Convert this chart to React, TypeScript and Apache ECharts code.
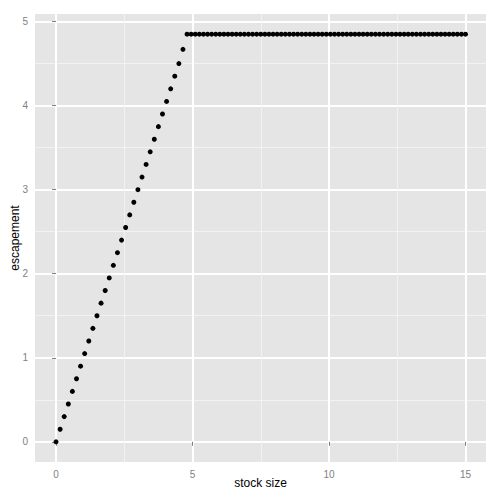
import React, { useEffect, useRef } from "react";
import * as echarts from "echarts";

const stockSize = [
  0, 0.15, 0.3, 0.45, 0.6, 0.75, 0.9, 1.05, 1.2, 1.35, 1.5, 1.65, 1.8, 1.95, 2.1, 2.25,
  2.4, 2.55, 2.7, 2.85, 3, 3.15, 3.3, 3.45, 3.6, 3.75, 3.9, 4.05, 4.2, 4.35, 4.5, 4.65,
  4.8, 4.95, 5.1, 5.25, 5.4, 5.55, 5.7, 5.85, 6, 6.15, 6.3, 6.45, 6.6, 6.75, 6.9, 7.05,
  7.2, 7.35, 7.5, 7.65, 7.8, 7.95, 8.1, 8.25, 8.4, 8.55, 8.7, 8.85, 9, 9.15, 9.3, 9.45,
  9.6, 9.75, 9.9, 10.05, 10.2, 10.35, 10.5, 10.65, 10.8, 10.95, 11.1, 11.25, 11.4, 11.55,
  11.7, 11.85, 12, 12.15, 12.3, 12.45, 12.6, 12.75, 12.9, 13.05, 13.2, 13.35, 13.5, 13.65,
  13.8, 13.95, 14.1, 14.25, 14.4, 14.55, 14.7, 14.85, 15,
];

const escapement = [
  0, 0.15, 0.3, 0.45, 0.6, 0.75, 0.9, 1.05, 1.2, 1.35, 1.5, 1.65, 1.8, 1.95, 2.1, 2.25,
  2.4, 2.55, 2.7, 2.85, 3, 3.15, 3.3, 3.45, 3.6, 3.75, 3.9, 4.05, 4.2, 4.35, 4.5, 4.67,
  4.85, 4.85, 4.85, 4.85, 4.85, 4.85, 4.85, 4.85, 4.85, 4.85, 4.85, 4.85, 4.85, 4.85, 4.85, 4.85,
  4.85, 4.85, 4.85, 4.85, 4.85, 4.85, 4.85, 4.85, 4.85, 4.85, 4.85, 4.85, 4.85, 4.85, 4.85, 4.85,
  4.85, 4.85, 4.85, 4.85, 4.85, 4.85, 4.85, 4.85, 4.85, 4.85, 4.85, 4.85, 4.85, 4.85, 4.85, 4.85,
  4.85, 4.85, 4.85, 4.85, 4.85, 4.85, 4.85, 4.85, 4.85, 4.85, 4.85, 4.85, 4.85, 4.85, 4.85, 4.85,
  4.85, 4.85, 4.85, 4.85, 4.85,
];

const xTicks = [0, 5, 10, 15];
const yTicks = [0, 1, 2, 3, 4, 5];

export default function App() {
  const ref = useRef<HTMLDivElement>(null);
  useEffect(() => {
    if (!ref.current) return;
    const chart = echarts.init(ref.current, null, { renderer: "svg" });
    const points = stockSize.map((x, i) => [x, escapement[i]]);
    chart.setOption({
      animation: false,
      backgroundColor: "#ffffff",
      textStyle: { fontFamily: "Liberation Sans" },
      grid: {
        left: 35,
        right: 14,
        top: 14,
        bottom: 38,
        show: true,
        backgroundColor: "#E5E5E5",
        borderWidth: 0,
        containLabel: false,
        outerBoundsMode: "none",
      },
      xAxis: {
        type: "value",
        min: -0.77,
        max: 15.75,
        splitNumber: 3,
        name: "stock size",
        nameLocation: "middle",
        nameGap: 15,
        nameMoveOverlap: false,
        nameTextStyle: { color: "#000000", fontSize: 12, fontFamily: "Liberation Sans" },
        axisLine: { show: false },
        axisTick: { show: true, length: 4, lineStyle: { color: "#7F7F7F" }, customValues: xTicks },
        axisLabel: { color: "#7F7F7F", fontSize: 10, margin: 7, customValues: xTicks },
        splitLine: { show: true, lineStyle: { color: "#FFFFFF", width: 2 } },
        minorTick: { show: false, splitNumber: 2 },
        minorSplitLine: { show: true, lineStyle: { color: "#F2F2F2", width: 1 } },
      },
      yAxis: {
        type: "value",
        min: -0.24,
        max: 5.09,
        splitNumber: 5,
        name: "escapement",
        nameLocation: "middle",
        nameGap: 14,
        nameMoveOverlap: false,
        nameTextStyle: { color: "#000000", fontSize: 12, fontFamily: "Liberation Sans" },
        axisLine: { show: false },
        axisTick: { show: true, length: 4, lineStyle: { color: "#7F7F7F" }, customValues: yTicks },
        axisLabel: { color: "#7F7F7F", fontSize: 10, margin: 7, customValues: yTicks },
        splitLine: { show: true, lineStyle: { color: "#FFFFFF", width: 2 } },
        minorTick: { show: false, splitNumber: 2 },
        minorSplitLine: { show: true, lineStyle: { color: "#F2F2F2", width: 1 } },
      },
      series: [
        {
          type: "scatter",
          data: points,
          symbol: "circle",
          symbolSize: 5,
          itemStyle: { color: "#000000", opacity: 1 },
        },
      ],
    });
    return () => chart.dispose();
  }, []);
  return (
    <div
      ref={ref}
      style={{ position: "fixed", left: 0, top: 0, width: 500, height: 500 }}
    />
  );
}
